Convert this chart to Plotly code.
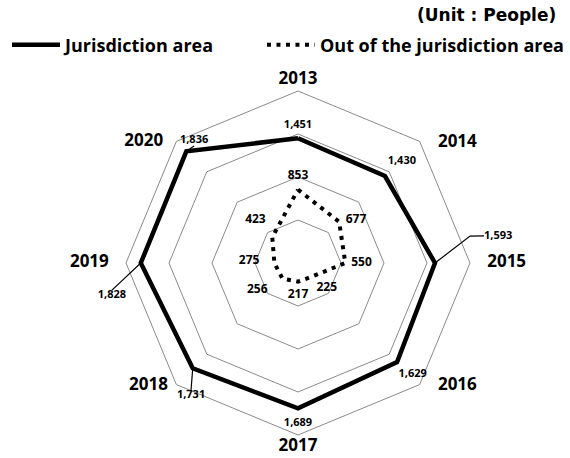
import plotly.graph_objects as go

categories = ["2013", "2014", "2015", "2016", "2017", "2018", "2019", "2020"]
jurisdiction = [1451, 1430, 1593, 1629, 1689, 1731, 1828, 1836]
outside = [853, 677, 550, 225, 217, 256, 275, 423]
series_names = ["Jurisdiction area", "Out of the jurisdiction area"]
unit_label = "(Unit : People)"

angles = [i * 45 for i in range(len(categories))]  # clockwise from top


def fmt(v):
    return f"{v:,}"


FONT = "Open Sans"
fig = go.Figure()

# main series (closed polygons) on categorical polar axis
fig.add_trace(go.Scatterpolar(
    r=jurisdiction + jurisdiction[:1], theta=categories + categories[:1],
    mode="lines", name=series_names[0], legend="legend",
    line=dict(color="black", width=4.5), cliponaxis=False))
fig.add_trace(go.Scatterpolar(
    r=outside + outside[:1], theta=categories + categories[:1],
    mode="lines", name=series_names[1], legend="legend2",
    line=dict(color="black", width=4, dash="4px,5.5px"), cliponaxis=False))

lab_font = dict(family=FONT, size=11, color="black", weight="bold")
out_font = dict(family=FONT, size=12, color="black", weight="bold")

# label placements (radius in data units, angle in degrees) on the overlay axis
juris_label_pos = [(1601, 0.0), (1687, 45.7), None, (1854, 134.0), (1867, 180.0),
                   None, None, None]
out_label_pos = [(1009, 0.0), (841, 53.4), (739, 90.0), (447, 131.5), (369, 180.0),
                 (565, 236.9), (569, 271.8), (705, 315.4)]

for v, pos in zip(jurisdiction, juris_label_pos):
    if pos:
        fig.add_trace(go.Scatterpolar(
            r=[pos[0]], theta=[pos[1]], subplot="polar2", mode="text",
            text=[fmt(v)], textposition="middle center", textfont=lab_font,
            showlegend=False, hoverinfo="skip", cliponaxis=False))
for v, pos in zip(outside, out_label_pos):
    fig.add_trace(go.Scatterpolar(
        r=[pos[0]], theta=[pos[1]], subplot="polar2", mode="text",
        text=[fmt(v)], textposition="middle center", textfont=out_font,
        showlegend=False, hoverinfo="skip", cliponaxis=False))

# labels with leader lines
leaders = [
    (2, [(2025, 81.1), (2186, 81.7)], "middle right"),
    (7, [(1820, 318.4)], "top center"),
    (6, [(2186, 261.7)], "bottom center"),
    (5, [(1931, 220.1)], "bottom center"),
]
for idx, path, pos in leaders:
    rr = [jurisdiction[idx]] + [p[0] for p in path]
    tt = [angles[idx]] + [p[1] for p in path]
    fig.add_trace(go.Scatterpolar(
        r=rr, theta=tt, subplot="polar2", mode="lines",
        line=dict(color="black", width=1.2),
        showlegend=False, hoverinfo="skip", cliponaxis=False))
    fig.add_trace(go.Scatterpolar(
        r=[rr[-1]], theta=[tt[-1]], subplot="polar2", mode="text",
        text=[fmt(jurisdiction[idx])], textposition=pos, textfont=lab_font,
        showlegend=False, hoverinfo="skip", cliponaxis=False))

# category labels around the frame (radius, angle, anchor)
cat_label_pos = [
    (2128, 0.0, "middle center"),
    (2143, 49.4, "middle right"),
    (2200, 90.0, "middle right"),
    (2166, 131.3, "middle right"),
    (2140, 180.0, "middle center"),
    (2081, 226.6, "middle left"),
    (2200, 270.0, "middle left"),
    (2107, 311.9, "middle left"),
]
for cat, (rl, tl, pos) in zip(categories, cat_label_pos):
    fig.add_trace(go.Scatterpolar(
        r=[rl], theta=[tl], subplot="polar2", mode="text", text=[cat],
        textposition=pos, textfont=dict(family=FONT, size=17, weight="bold", color="black"),
        showlegend=False, hoverinfo="skip", cliponaxis=False))

fig.update_layout(
    width=570, height=458,
    margin=dict(l=0, r=0, t=0, b=0),
    paper_bgcolor="white", plot_bgcolor="white",
    font=dict(family=FONT, color="black"),
    polar=dict(
        domain=dict(x=[0.22105, 0.82456], y=[0.05022, 0.80131]),
        gridshape="linear",
        bgcolor="white",
        radialaxis=dict(range=[0, 2000], tickvals=[500, 1000, 1500, 2000],
                        showticklabels=False, ticks="", showline=False,
                        gridcolor="#8a8a8a", gridwidth=1),
        angularaxis=dict(type="category", direction="clockwise", rotation=90,
                         categoryarray=categories, showticklabels=False,
                         showgrid=False, ticks="", showline=True,
                         linecolor="#8a8a8a", linewidth=1),
    ),
    polar2=dict(
        domain=dict(x=[0.19088, 0.85474], y=[0.01266, 0.83886]),
        bgcolor="rgba(0,0,0,0)",
        radialaxis=dict(range=[0, 2200], visible=False, showgrid=False),
        angularaxis=dict(direction="clockwise", rotation=90, thetaunit="degrees",
                         visible=False, showgrid=False),
    ),
    legend=dict(orientation="h", x=0.0123, y=0.9017, xanchor="left", yanchor="middle",
                font=dict(family=FONT, size=18, weight="bold"), itemwidth=48,
                bgcolor="rgba(0,0,0,0)"),
    legend2=dict(orientation="h", x=0.4596, y=0.9017, xanchor="left", yanchor="middle",
                 font=dict(family=FONT, size=18, weight="bold"), itemwidth=48,
                 bgcolor="rgba(0,0,0,0)"),
    annotations=[dict(text="<b>" + unit_label + "</b>", x=0.728, y=0.967,
                      xref="paper", yref="paper",
                      xanchor="left", yanchor="middle", showarrow=False,
                      font=dict(family="DejaVu Sans", size=17))],
)

fig.write_html("out.html", config={"displayModeBar": False},
               post_script="document.body.style.margin='0';")
